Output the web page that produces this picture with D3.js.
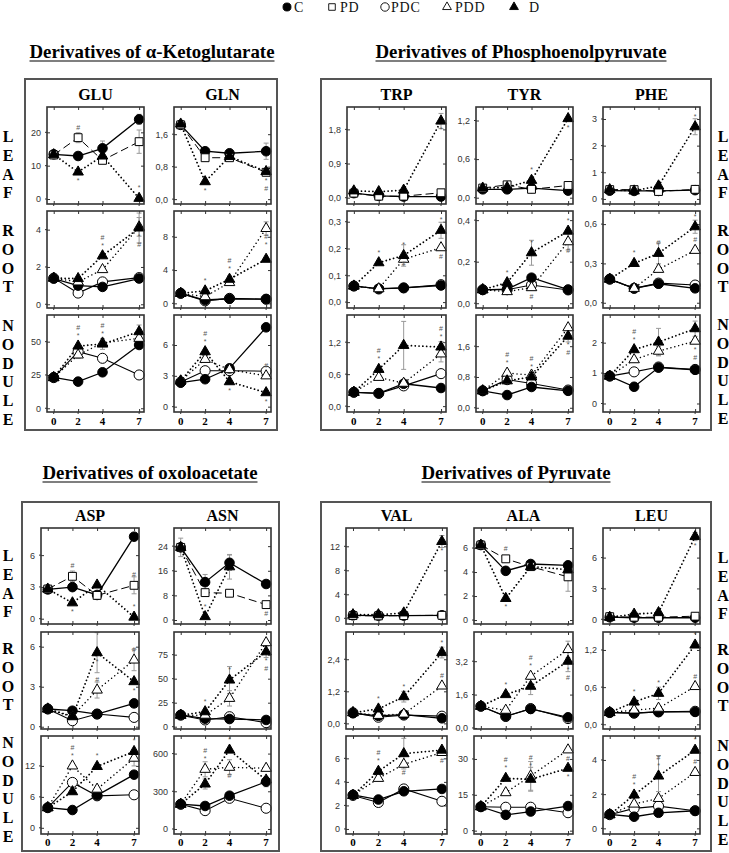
<!DOCTYPE html>
<html><head><meta charset="utf-8">
<script src="https://cdn.jsdelivr.net/npm/d3@7"></script>
<style>body{margin:0;background:#fff}svg{display:block}
.serif{font-family:"Liberation Serif","Times New Roman",serif}
.sans{font-family:"Liberation Sans",Arial,sans-serif}</style>
</head><body>
<svg id="c" width="729" height="853"></svg>
<script>
// ---------- data ----------
const days = [0, 2, 4, 7];
const seriesNames = ["C", "PD", "PDC", "PDD", "D"];
const groupTitles = ["Derivatives of α-Ketoglutarate", "Derivatives of Phosphoenolpyruvate",
                     "Derivatives of oxoloacetate", "Derivatives of Pyruvate"];
const organs = ["LEAF", "ROOT", "NODULE"];

const GLU_LEAF = {C:[13.4,12.9,15.2,23.9], PD:[13.2,18.4,11.6,17.2], D:[13.3,8.1,12.9,0.2]};
const GLU_ROOT = {C:[1.38,1.0,0.93,1.38], PDC:[1.4,0.6,1.2,1.43], PDD:[1.4,1.2,1.86,4.15], D:[1.4,1.38,2.6,4.09]};
const GLU_NOD  = {C:[23.2,20,27,47.5], PDC:[23,42.5,37.5,25], PDD:[23,40,49,52.5], D:[23,46.7,48.2,57.5]};
const GLN_LEAF = {C:[1.83,1.18,1.13,1.18], PD:[1.83,1.02,1.02,0.66], D:[1.85,0.43,1.05,0.68]};
const GLN_ROOT = {C:[1.2,0.4,0.55,0.5], PDC:[1.2,0.3,0.6,0.5], PDD:[1.2,0.8,2.5,9.0], D:[1.2,1.5,2.9,5.3]};
const GLN_NOD  = {C:[2.33,2.67,3.73,7.72], PDC:[2.4,3.5,3.5,3.45], PDD:[2.5,4.6,3.6,3.0], D:[2.5,5.35,2.43,1.36]};

const TRP_LEAF = {C:[0.12,0.05,0.03,0.03], PD:[0.12,0.04,0.04,0.13], D:[0.18,0.16,0.2,2.02]};
const TRP_ROOT = {C:[0.06,0.05,0.053,0.062], PDC:[0.06,0.049,0.053,0.065], PDD:[0.06,0.05,0.16,0.203], D:[0.06,0.147,0.174,0.268]};
const TRP_NOD  = {C:[0.26,0.24,0.42,0.34], PDC:[0.26,0.24,0.38,0.61], PDD:[0.26,0.54,0.43,0.98], D:[0.26,0.69,1.14,1.11]};
const TYR_LEAF = {C:[0.13,0.13,0.15,0.11], PD:[0.15,0.2,0.13,0.19], D:[0.15,0.16,0.27,1.23]};
const TYR_ROOT = {C:[0.064,0.068,0.123,0.065], PDC:[0.065,0.065,0.088,0.064], PDD:[0.065,0.056,0.075,0.296], D:[0.065,0.099,0.243,0.347]};
const TYR_NOD  = {C:[0.44,0.33,0.54,0.44], PDC:[0.44,0.73,0.63,0.46], PDD:[0.44,0.9,0.85,2.08], D:[0.44,0.7,0.8,1.86]};
const PHE_LEAF = {C:[0.31,0.3,0.3,0.33], PD:[0.35,0.35,0.28,0.36], D:[0.35,0.3,0.49,2.71]};
const PHE_ROOT = {C:[0.18,0.11,0.145,0.11], PDC:[0.18,0.11,0.15,0.135], PDD:[0.18,0.11,0.255,0.4], D:[0.18,0.3,0.377,0.58]};
const PHE_NOD  = {C:[0.9,0.55,1.18,1.11], PDC:[0.9,1.04,1.2,1.12], PDD:[0.9,1.44,1.72,2.05], D:[0.9,1.77,2.02,2.46]};

const ASP_LEAF = {C:[2.76,2.98,2.24,7.74], PD:[2.8,4.0,2.2,3.15], D:[2.8,1.5,3.18,0.15]};
const ASP_ROOT = {C:[1.33,1.2,0.95,1.75], PDC:[1.33,0.45,0.95,0.7], PDD:[1.33,0.8,2.75,5.0], D:[1.33,0.75,5.55,3.38]};
const ASP_NOD  = {C:[3.9,3.45,6.3,10.3], PDC:[3.9,8.8,6.2,6.4], PDD:[3.9,12,7.5,13.5], D:[3.9,7.0,11.9,14.8]};
const ASN_LEAF = {C:[23.6,12.3,18.6,11.7], PD:[23.6,8.9,8.7,5.0], D:[23.6,1.1,17.3,null]};
const ASN_ROOT = {C:[12.2,8.3,8,7], PDC:[12,7,10.4,4.2], PDD:[12,12,29.5,87.5], D:[12,15.6,48.6,78]};
const ASN_NOD  = {C:[197,183,265,376], PDC:[197,146,244,165], PDD:[197,475,491,483], D:[197,358,628,390]};

const VAL_LEAF = {C:[0.5,0.45,0.45,0.5], PD:[0.45,0.4,0.45,0.5], D:[0.6,0.6,0.9,12.8]};
const VAL_ROOT = {C:[0.38,0.28,0.33,0.19], PDC:[0.4,0.23,0.31,0.27], PDD:[0.4,0.3,0.35,1.4], D:[0.4,0.54,1.0,2.65]};
const VAL_NOD  = {C:[2.9,2.5,3.2,3.4], PDC:[2.85,2.25,3.4,2.35], PDD:[2.85,4.3,5.5,6.5], D:[2.85,4.9,6.4,6.7]};
const ALA_LEAF = {C:[6.25,4.1,4.67,4.56], PD:[6.25,5.1,4.45,3.6], D:[6.25,1.8,4.45,4.2]};
const ALA_ROOT = {C:[1.04,0.56,0.91,0.51], PDC:[1.04,0.55,0.93,0.45], PDD:[1.04,0.85,2.48,3.76], D:[1.04,1.6,2.0,3.2]};
const ALA_NOD  = {C:[10,6.6,8,10.3], PDC:[10,9.8,9.8,7.5], PDD:[10,15.9,22.9,33.8], D:[10,21.9,21.5,26.1]};
const LEU_LEAF = {C:[0.2,0.15,0.15,0.15], PD:[0.25,0.2,0.2,0.3], D:[0.2,0.5,0.65,8.05]};
const LEU_ROOT = {C:[0.19,0.18,0.2,0.2], PDC:[0.19,0.18,0.2,0.21], PDD:[0.19,0.23,0.26,0.61], D:[0.19,0.36,0.5,1.28]};
const LEU_NOD  = {C:[0.82,0.68,0.91,1.03], PDC:[0.8,1.17,1.3,1.03], PDD:[0.8,1.42,1.75,3.27], D:[0.8,1.95,3.06,4.57]};

// y tick labels per amino acid (leaf, root, nodule) and axis ranges
const GLU_TICKS = [[0,10,20],[0,2,4],[0,25,50]];        const GLU_RANGE = [[-1.5,27.6],[-0.2,5.0],[-2.8,70]];
const GLN_TICKS = [[0,0.8,1.6],[0,4,8],[0,3,6]];        const GLN_RANGE = [[-0.12,2.27],[-0.56,11.1],[-0.52,8.92]];
const TRP_TICKS = [[0,0.9,1.8],[0,0.1,0.2,0.3],[0,0.6,1.2]]; const TRP_RANGE = [[-0.166,2.39],[-0.022,0.34],[-0.11,1.71]];
const TYR_TICKS = [[0,0.6,1.2],[0,0.2,0.4],[0,0.8,1.6]];  const TYR_RANGE = [[-0.098,1.41],[-0.023,0.444],[-0.11,2.41]];
const PHE_TICKS = [[0,1,2,3],[0,0.3,0.6],[0,1,2]];      const PHE_RANGE = [[-0.19,3.45],[-0.04,0.70],[-0.28,2.91]];
const ASP_TICKS = [[0,3,6],[0,3,6],[0,6,12]];           const ASP_RANGE = [[-0.5,8.56],[-0.17,7.1],[-1.2,17.8]];
const ASN_TICKS = [[0,8,16,24],[0,25,50,75],[0,300,600]]; const ASN_RANGE = [[-1.3,29.9],[-2.4,98.6],[-40,740]];
const VAL_TICKS = [[0,4,8,12],[0,1.2,2.4],[0,2,4,6]];   const VAL_RANGE = [[-0.95,15.05],[-0.21,3.42],[-0.43,7.9]];
const ALA_TICKS = [[0,2,4,6],[0,1.6,3.2],[0,15,30]];    const ALA_RANGE = [[-0.33,7.67],[-0.05,4.6],[-1.4,39.6]];
const LEU_TICKS = [[0,3,6],[0,0.6,1.2],[0,2,4]];        const LEU_RANGE = [[-0.46,8.88],[-0.076,1.49],[-0.33,5.4]];

// error bars: [amino acid, organ index, series, day index, half-width]
const errorBars = [
  ["GLU",0,"PD",3,3.5],["GLU",0,"PD",1,1.5],["GLU",0,"C",2,2.2],["GLU",0,"C",3,1.5],["GLN",0,"C",3,0.2],
  ["GLU",1,"D",3,0.8],["GLU",1,"PDD",3,0.5],["GLN",1,"PDD",3,0.8],["GLN",1,"D",2,0.4],
  ["GLU",2,"PDC",1,5],["GLU",2,"D",3,5],["GLU",2,"D",2,4],
  ["TRP",0,"D",3,0.2],["TRP",1,"D",2,0.04],["TRP",1,"D",3,0.03],["TRP",2,"D",2,0.45],["TRP",2,"D",3,0.1],["TRP",2,"PDD",3,0.15],
  ["TYR",1,"D",2,0.06],["TYR",1,"PDD",3,0.04],["TYR",2,"D",2,0.1],["TYR",2,"D",3,0.15],
  ["PHE",0,"D",3,0.3],["PHE",1,"D",2,0.08],["PHE",1,"D",3,0.05],["PHE",2,"D",2,0.45],["PHE",2,"D",3,0.25],["PHE",2,"PDD",2,0.15],
  ["ASP",0,"PD",3,0.8],["ASP",0,"PD",1,0.5],["ASP",1,"D",2,1.5],["ASP",1,"PDD",3,0.8],["ASP",1,"PDD",2,0.6],
  ["ASN",0,"C",2,2.5],["ASN",0,"D",2,4],["ASN",0,"C",1,2.5],["ASN",0,"D",0,3],
  ["ASN",1,"D",2,14],["ASN",1,"PDD",2,8],["ASN",1,"D",3,6],
  ["ASP",2,"PDD",3,1.5],["ASN",2,"PDD",2,60],["ASN",2,"PDD",1,60],["ASN",2,"D",1,40],["ASN",2,"C",3,40],
  ["ALA",0,"PD",3,1.2],["VAL",0,"D",3,1],["LEU",0,"D",3,0.4],
  ["VAL",1,"D",3,0.2],["VAL",1,"D",2,0.2],["ALA",1,"PDD",3,0.4],["ALA",1,"D",2,0.4],["ALA",1,"D",3,0.5],["LEU",1,"D",2,0.1],
  ["VAL",2,"D",2,1.3],["ALA",2,"PDD",2,6],["ALA",2,"D",2,5],["LEU",2,"D",2,1.2],["LEU",2,"PDD",2,0.4]
];

// significance marks: [amino acid, organ index, series, day index, -1 above / 1 below, symbols top→bottom]
const marks = [
  ["GLU",0,"PD",1,-1,"#"],["GLU",0,"D",1,1,"*"],["GLU",0,"D",3,-1,"*"],
  ["GLN",0,"D",1,1,"*"],["GLN",0,"D",3,1,"*#"],
  ["GLU",1,"D",2,-1,"#*"],["GLU",1,"D",3,1,"*#"],
  ["GLN",1,"D",1,-1,"*"],["GLN",1,"D",2,-1,"#*"],["GLN",1,"PDD",3,1,"#*"],
  ["GLU",2,"D",1,-1,"#*"],["GLU",2,"D",2,-1,"#*"],
  ["GLN",2,"D",1,-1,"#*"],["GLN",2,"D",2,1,"*"],["GLN",2,"D",3,1,"*"],["GLN",2,"PDD",3,-1,"#"],
  ["TRP",0,"D",3,1,"*"],["TYR",0,"D",2,-1,"*"],["TYR",0,"D",3,1,"*"],["PHE",0,"D",3,-1,"*"],
  ["TRP",1,"D",1,-1,"*"],["TRP",1,"D",2,-1,"*"],["TRP",1,"D",2,1,"#"],["TRP",1,"D",3,-1,"*"],["TRP",1,"PDD",3,1,"#"],
  ["TYR",1,"D",1,-1,"*"],["TYR",1,"D",2,-1,"*"],["TYR",1,"PDD",2,1,"#"],["TYR",1,"D",3,-1,"*"],["TYR",1,"PDD",3,1,"#"],
  ["PHE",1,"D",1,-1,"*"],["PHE",1,"D",2,-1,"#"],["PHE",1,"D",3,-1,"*"],["PHE",1,"PDD",3,-1,"#"],
  ["TRP",2,"D",1,-1,"#*"],["TRP",2,"D",3,-1,"#*"],
  ["TYR",2,"PDD",1,-1,"#*"],["TYR",2,"D",2,-1,"#*"],["TYR",2,"D",3,1,"*#"],
  ["PHE",2,"D",1,-1,"#*"],["PHE",2,"PDD",3,1,"*#"],
  ["ASP",0,"PD",1,-1,"#"],["ASP",0,"D",1,1,"*"],["ASP",0,"PD",3,-1,"#"],["ASP",0,"D",3,-1,"*"],
  ["ASN",0,"D",1,-1,"*"],["ASN",0,"PD",3,1,"#"],
  ["ASP",1,"D",2,1,"*"],["ASP",1,"PDD",2,-1,"#"],["ASP",1,"PDD",3,-1,"#"],["ASP",1,"D",3,1,"*"],
  ["ASN",1,"D",1,-1,"*"],["ASN",1,"D",2,-1,"*"],["ASN",1,"D",3,1,"*#"],
  ["ASP",2,"PDD",1,-1,"#*"],["ASP",2,"D",2,-1,"*"],["ASP",2,"D",3,-1,"*"],
  ["ASN",2,"PDD",1,-1,"#*"],["ASN",2,"D",2,-1,"*"],["ASN",2,"PDD",2,1,"#"],
  ["VAL",0,"D",3,1,"*"],["ALA",0,"PD",1,-1,"#"],["ALA",0,"D",1,1,"*"],["LEU",0,"D",3,1,"*"],
  ["VAL",1,"D",1,-1,"*"],["VAL",1,"D",2,-1,"*"],["VAL",1,"D",3,-1,"*"],["VAL",1,"PDD",3,-1,"#"],
  ["ALA",1,"D",1,-1,"*"],["ALA",1,"PDD",2,-1,"#*"],["ALA",1,"D",3,1,"*#"],
  ["LEU",1,"D",1,-1,"*"],["LEU",1,"D",2,-1,"*"],["LEU",1,"D",3,-1,"*"],["LEU",1,"PDD",3,-1,"#"],
  ["VAL",2,"D",1,-1,"#*"],["VAL",2,"PDD",2,1,"#"],["VAL",2,"D",3,-1,"*"],["VAL",2,"PDD",3,1,"#"],
  ["ALA",2,"D",1,-1,"#*"],["ALA",2,"PDD",2,-1,"#*"],["ALA",2,"D",3,1,"*"],["ALA",2,"PDD",3,1,"#"],
  ["LEU",2,"D",1,-1,"#*"],["LEU",2,"D",2,-1,"#*"],["LEU",2,"D",3,-1,"*"],["LEU",2,"PDD",3,-1,"#"]
];

// ---------- tables built from the arrays ----------
const DATA = {
  GLU:[GLU_LEAF,GLU_ROOT,GLU_NOD], GLN:[GLN_LEAF,GLN_ROOT,GLN_NOD],
  TRP:[TRP_LEAF,TRP_ROOT,TRP_NOD], TYR:[TYR_LEAF,TYR_ROOT,TYR_NOD], PHE:[PHE_LEAF,PHE_ROOT,PHE_NOD],
  ASP:[ASP_LEAF,ASP_ROOT,ASP_NOD], ASN:[ASN_LEAF,ASN_ROOT,ASN_NOD],
  VAL:[VAL_LEAF,VAL_ROOT,VAL_NOD], ALA:[ALA_LEAF,ALA_ROOT,ALA_NOD], LEU:[LEU_LEAF,LEU_ROOT,LEU_NOD]
};
const TICKS = {GLU:GLU_TICKS,GLN:GLN_TICKS,TRP:TRP_TICKS,TYR:TYR_TICKS,PHE:PHE_TICKS,ASP:ASP_TICKS,ASN:ASN_TICKS,VAL:VAL_TICKS,ALA:ALA_TICKS,LEU:LEU_TICKS};
const RANGES = {GLU:GLU_RANGE,GLN:GLN_RANGE,TRP:TRP_RANGE,TYR:TYR_RANGE,PHE:PHE_RANGE,ASP:ASP_RANGE,ASN:ASN_RANGE,VAL:VAL_RANGE,ALA:ALA_RANGE,LEU:LEU_RANGE};

// ---------- layout ----------
const R12 = [[107,204],[211,308],[315,412]];
const R34 = [[528,624],[632,729],[736,834]];
const LAYOUT = [
  {title:groupTitles[0], aas:["GLU","GLN"], box:[25,79,277,430], cols:[[47,144],[174,271]], rows:R12, tx:152, ty:58, tw:245, pty:100, xly:425, lx:8, ly:[137,231,326]},
  {title:groupTitles[1], aas:["TRP","TYR","PHE"], box:[321,79,711,430], cols:[[347,446],[476,573],[603,700]], rows:R12, tx:521, ty:58, tw:291, pty:100, xly:425, lx:723, ly:[137,231,325]},
  {title:groupTitles[2], aas:["ASP","ASN"], box:[22,502,279,851], cols:[[41,139],[174,271]], rows:R34, tx:150, ty:479, tw:215, pty:521, xly:846, lx:8, ly:[556,649,743]},
  {title:groupTitles[3], aas:["VAL","ALA","LEU"], box:[321,502,711,851], cols:[[346,447],[474,573],[603,700]], rows:R34, tx:516, ty:479, tw:189, pty:521, xly:846, lx:723, ly:[558,650,746]}
];

const STYLE = {
  C:   {sym:d3.symbolCircle,   size:72, fill:"#000", dash:null,       lw:1.3, cap:"butt"},
  PD:  {sym:d3.symbolSquare,   size:62, fill:"#fff", dash:"8,4",      lw:1.0, cap:"butt"},
  PDC: {sym:d3.symbolCircle,   size:80, fill:"#fff", dash:null,       lw:1.1, cap:"butt"},
  PDD: {sym:d3.symbolTriangle, size:48, fill:"#fff", dash:"0.01,4",   lw:1.5, cap:"round"},
  D:   {sym:d3.symbolTriangle, size:48, fill:"#000", dash:"0.01,3.8", lw:1.8, cap:"round"}
};
const drawOrder = ["PDC","C","PD","PDD","D"];

const svg = d3.select("#c");

function fmt(v, dec){ return d3.format("." + dec + "f")(v).replace(".", ","); }

// legend
const legX = [[287,294],[332,340],[385,391],[447,455],[514,529]];
seriesNames.forEach((s, i) => {
  const st = STYLE[s];
  svg.append("path").attr("d", d3.symbol(st.sym, st.size * 0.7)())
    .attr("transform", `translate(${legX[i][0]},7)`)
    .attr("fill", st.fill).attr("stroke", "#000").attr("stroke-width", 0.9);
  svg.append("text").attr("class", "serif").attr("x", legX[i][1]).attr("y", 12).text(s)
    .attr("font-size", 14).attr("letter-spacing", 0.8).attr("fill", "#111");
});

LAYOUT.forEach(G => {
  // title with underline
  svg.append("text").attr("class", "serif").attr("x", G.tx).attr("y", G.ty).attr("text-anchor", "middle")
    .attr("font-weight", "bold").attr("font-size", 19)
    .attr("textLength", G.tw).attr("lengthAdjust", "spacingAndGlyphs").text(G.title);
  svg.append("line").attr("x1", G.tx - G.tw/2).attr("x2", G.tx + G.tw/2)
    .attr("y1", G.ty + 3).attr("y2", G.ty + 3).attr("stroke", "#000").attr("stroke-width", 1.2);
  // group box
  svg.append("rect").attr("x", G.box[0]).attr("y", G.box[1])
    .attr("width", G.box[2] - G.box[0]).attr("height", G.box[3] - G.box[1])
    .attr("fill", "none").attr("stroke", "#555").attr("stroke-width", 2);
  // organ letters
  organs.forEach((o, oi) => {
    o.split("").forEach((ch, k) => {
      svg.append("text").attr("class", "serif").attr("x", G.lx).attr("y", G.ly[oi] + k * 18.8 + 5)
        .attr("text-anchor", "middle")
        .attr("font-weight", "bold").attr("font-size", 16).text(ch);
    });
  });

  G.aas.forEach((aa, ci) => {
    const [x0, x1] = G.cols[ci];
    const x = d3.scaleLinear().domain([-0.55, 7.4]).range([x0, x1]);
    svg.append("text").attr("class", "serif").attr("x", (x0 + x1) / 2).attr("y", G.pty).attr("text-anchor", "middle")
      .attr("font-weight", "bold").attr("font-size", 16).text(aa);
    // x tick labels
    days.forEach(d => {
      svg.append("text").attr("class", "serif").attr("x", x(d)).attr("y", G.xly).attr("text-anchor", "middle")
        .attr("font-weight", "bold").attr("font-size", 11).text(d);
    });

    G.rows.forEach((rr, oi) => {
      const [y0, y1] = rr;
      const y = d3.scaleLinear().domain(RANGES[aa][oi]).range([y1, y0]);
      const ticks = TICKS[aa][oi];
      const dec = ticks.every(t => Number.isInteger(t)) ? 0 : 1;
      const g = svg.append("g");

      const axL = g.append("g").attr("transform", `translate(${x0},0)`)
        .call(d3.axisLeft(y).tickValues(ticks).tickSizeInner(-3).tickSizeOuter(0).tickPadding(6).tickFormat(t => fmt(t, dec)));
      const axR = g.append("g").attr("transform", `translate(${x1},0)`)
        .call(d3.axisRight(y).tickValues(ticks).tickSizeInner(-3).tickSizeOuter(0).tickFormat(""));
      const axT = g.append("g").attr("transform", `translate(0,${y0})`)
        .call(d3.axisTop(x).tickValues(days).tickSizeInner(-3).tickSizeOuter(0).tickFormat(""));
      const axB = g.append("g").attr("transform", `translate(0,${y1})`)
        .call(d3.axisBottom(x).tickValues(days).tickSizeInner(-3).tickSizeOuter(0).tickFormat(""));
      [axL, axR, axT, axB].forEach(a => {
        a.select(".domain").remove();
        a.selectAll("line").attr("stroke", "#333");
      });
      axL.selectAll("text").attr("class", "sans").attr("font-size", 9).attr("fill", "#333");
      ticks.forEach(t => g.append("line").attr("x1", x0 - 2).attr("x2", x0).attr("y1", y(t)).attr("y2", y(t)).attr("stroke", "#333"));
      days.forEach(d => g.append("line").attr("x1", x(d)).attr("x2", x(d)).attr("y1", y1).attr("y2", y1 + 2).attr("stroke", "#333"));

      const panel = DATA[aa][oi];
      const present = drawOrder.filter(s => panel[s]);

      // error bars
      errorBars.filter(e => e[0] === aa && e[1] === oi).forEach(e => {
        const v = panel[e[2]][e[3]];
        const cx = x(days[e[3]]);
        const lo = y(v - e[4]), hi = y(v + e[4]);
        g.append("line").attr("x1", cx).attr("x2", cx).attr("y1", lo).attr("y2", hi).attr("stroke", "#999").attr("stroke-width", 1);
        [lo, hi].forEach(yy => g.append("line").attr("x1", cx - 2.5).attr("x2", cx + 2.5).attr("y1", yy).attr("y2", yy).attr("stroke", "#999").attr("stroke-width", 1));
      });

      // lines
      present.forEach(s => {
        const st = STYLE[s];
        const line = d3.line().defined(d => d[1] != null).x(d => x(d[0])).y(d => y(d[1]));
        g.append("path").datum(days.map((d, i) => [d, panel[s][i]]))
          .attr("d", line).attr("fill", "none").attr("stroke", "#000")
          .attr("stroke-width", st.lw).attr("stroke-dasharray", st.dash)
          .attr("stroke-linecap", st.cap);
      });
      // markers
      present.forEach(s => {
        const st = STYLE[s];
        days.forEach((d, i) => {
          const v = panel[s][i];
          if (v == null) return;
          g.append("path").attr("d", d3.symbol(st.sym, st.size)())
            .attr("transform", `translate(${x(d)},${y(v)})`)
            .attr("fill", st.fill).attr("stroke", "#000").attr("stroke-width", 1);
        });
      });
      // significance marks
      marks.filter(m => m[0] === aa && m[1] === oi).forEach(m => {
        const v = panel[m[2]][m[3]];
        const cx = x(days[m[3]]);
        const syms = m[5].split("");
        const n = syms.length;
        syms.forEach((c, k) => {
          const yy = m[4] < 0 ? y(v) - 8 - (n - 1 - k) * 8 : y(v) + 11 + k * 8;
          g.append("text").attr("class", "sans").attr("x", cx).attr("y", yy).attr("text-anchor", "middle")
            .attr("font-size", 7).attr("fill", "#555").text(c);
        });
      });

      g.append("rect").attr("x", x0).attr("y", y0).attr("width", x1 - x0).attr("height", y1 - y0)
        .attr("fill", "none").attr("stroke", "#333").attr("stroke-width", 1.6);
    });
  });
});
</script>
</body></html>
